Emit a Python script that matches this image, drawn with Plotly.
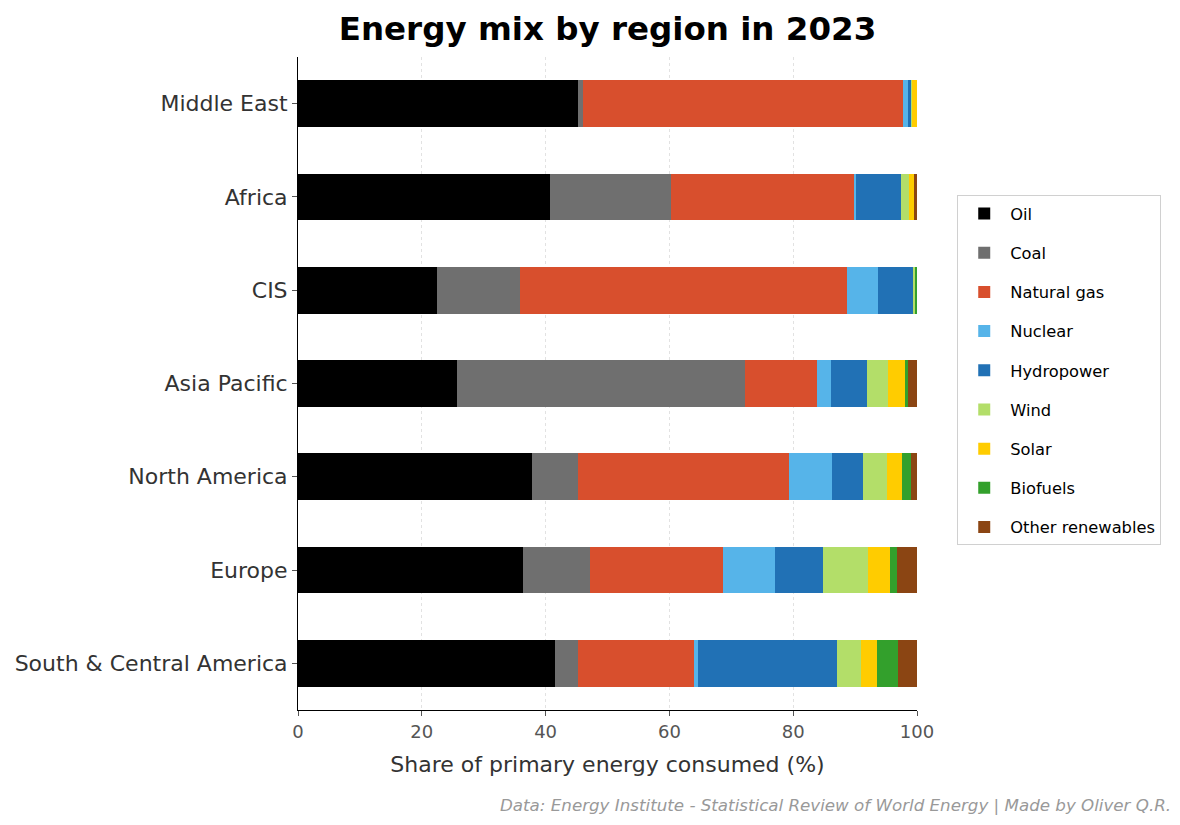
import plotly.graph_objects as go

# Regions listed top to bottom as they appear on the chart
regions = ['Middle East', 'Africa', 'CIS', 'Asia Pacific', 'North America',
           'Europe', 'South & Central America']

sources = ['Oil', 'Coal', 'Natural gas', 'Nuclear', 'Hydropower',
           'Wind', 'Solar', 'Biofuels', 'Other renewables']

# Share of primary energy (%) per source, same order as regions
oil = [45.3, 40.7, 22.4, 25.7, 37.8, 36.3, 41.5]
coal = [0.8, 19.5, 13.4, 46.5, 7.4, 10.9, 3.7]
natural_gas = [51.6, 29.6, 52.9, 11.6, 34.1, 21.5, 18.8]
nuclear = [0.8, 0.4, 5.0, 2.3, 7.0, 8.3, 0.6]
hydropower = [0.6, 7.2, 5.8, 5.9, 5.0, 7.8, 22.5]
wind = [0.1, 1.3, 0.2, 3.3, 3.9, 7.3, 3.9]
solar = [0.8, 0.8, 0.1, 2.9, 2.3, 3.5, 2.5]
biofuels = [0.0, 0.0, 0.2, 0.3, 1.6, 1.2, 3.5]
other_renewables = [0.0, 0.5, 0.0, 1.5, 0.9, 3.2, 3.0]

series = [oil, coal, natural_gas, nuclear, hydropower, wind, solar,
          biofuels, other_renewables]
colors = ['#000000', '#6f6f6f', '#d84f2d', '#56b4e9', '#2171b5',
          '#b3de69', '#ffcc00', '#33a02c', '#8b4513']

fig = go.Figure()

for name, values, color in zip(sources, series, colors):
    fig.add_trace(go.Bar(
        y=regions,
        x=values,
        name=name,
        orientation='h',
        width=0.5,
        marker=dict(color=color, line=dict(width=0)),
        legendgroup=name,
    ))

# page body adds ~8px offset, so the figure is a bit smaller than the window
W, H = 1172, 817
ML, MT = 290, 49

fig.update_layout(
    barmode='stack',
    width=W,
    height=H,
    margin=dict(l=ML, r=W - ML - 619, t=MT, b=H - MT - 653),
    paper_bgcolor='white',
    plot_bgcolor='white',
    font=dict(family='DejaVu Sans', color='#333333'),
    title=dict(
        text='<b>Energy mix by region in 2023</b>',
        x=0.5, xref='paper', xanchor='center',
        y=1 - 21 / H, yanchor='middle',
        font=dict(size=32.5, color='black', family='DejaVu Sans'),
    ),
    xaxis=dict(
        range=[0, 100],
        tickvals=[0, 20, 40, 60, 80, 100],
        tickfont=dict(size=18, color='#555555'),
        ticks='outside', ticklen=5, tickcolor='#555555',
        showline=True, linecolor='black', linewidth=1,
        showgrid=True, gridcolor='#e2e2e2', griddash='dot', gridwidth=1,
        zeroline=False, automargin=False,
        title=dict(text='Share of primary energy consumed (%)',
                   font=dict(size=22, color='#333333'), standoff=16),
    ),
    yaxis=dict(
        categoryorder='array',
        categoryarray=regions,
        range=[6.5, -0.5],
        tickfont=dict(size=22, color='#333333'),
        ticks='outside', ticklen=5, tickcolor='#555555',
        showline=True, linecolor='black', linewidth=1,
        showgrid=False, zeroline=False, automargin=False,
    ),
    legend=dict(
        x=1.065, xanchor='left',
        y=0.52, yanchor='middle',
        traceorder='grouped',
        tracegroupgap=15,
        itemwidth=42,
        bordercolor='#d0d0d0', borderwidth=1,
        bgcolor='white',
        font=dict(size=16.3, color='black'),
    ),
)

fig.add_annotation(
    text='<i>Data: Energy Institute - Statistical Review of World Energy | Made by Oliver Q.R.</i>',
    xref='paper', yref='paper',
    x=(1165 - ML) / 619, xanchor='right',
    y=-(797 - 49 - 653) / 653, yanchor='middle',
    showarrow=False,
    font=dict(size=16.7, color='#999999'),
)

fig.write_html("out.html")
